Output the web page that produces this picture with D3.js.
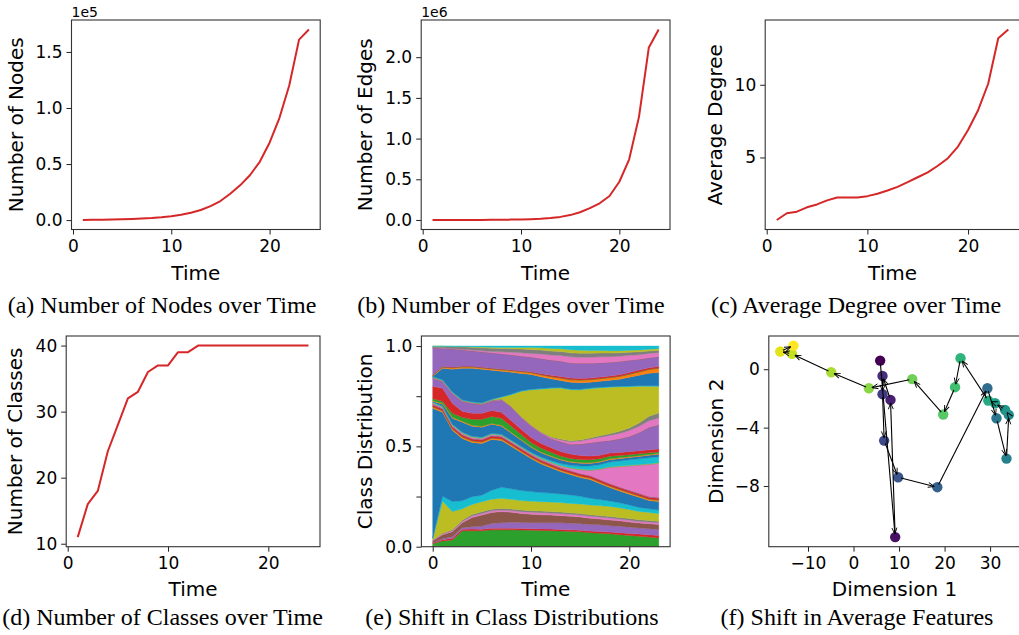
<!DOCTYPE html>
<html lang="en">
<head>
<meta charset="UTF-8">
<title>Dataset statistics over time</title>
<script src="https://cdn.jsdelivr.net/npm/d3@7"></script>
<style>
  body { margin: 0; background: #fff; }
  svg text { font-family: "DejaVu Sans", sans-serif; fill: #000; }
  .tick text { font-size: 17px; }
  .axis-label { font-size: 20px; }
  .offset { font-size: 14px; }
  .caption { font-family: "Liberation Serif", "Times New Roman", serif !important; font-size: 24px; }
</style>
</head>
<body>
<svg id="fig" width="1019" height="635"></svg>
<script>
// ---- data ----
const timeSteps = [1, 2, 3, 4, 5, 6, 7, 8, 9, 10, 11, 12, 13, 14, 15, 16, 17, 18, 19, 20, 21, 22, 23, 24];
const nodeCounts = [100, 200, 300, 500, 700, 1000, 1400, 1900, 2600, 3500, 4800, 6500, 9000, 12500,
                    17000, 23500, 31000, 40000, 52000, 69000, 91000, 120000, 161000, 170000];
const edgeCounts = [70, 150, 250, 500, 800, 1200, 2000, 3000, 4500, 7000, 10000, 15000, 24000, 38000,
                    60000, 95000, 145000, 205000, 295000, 470000, 745000, 1270000, 2120000, 2340000];
const avgDegree = [0.70, 1.16, 1.27, 1.57, 1.77, 2.05, 2.25, 2.25, 2.25, 2.34, 2.50, 2.73, 2.98, 3.30,
                   3.64, 3.98, 4.43, 4.95, 5.75, 6.89, 8.25, 10.07, 13.2, 13.8];
const classCounts = [11, 16, 18, 24, 28, 32, 33, 36, 37, 37, 39, 39, 40, 40, 40, 40, 40, 40, 40, 40, 40, 40, 40, 40];

// class shares (%) per snapshot, one row per class, bottom of the stack first
const snapshotSteps = [0, 1, 2, 3, 4, 5, 6, 7, 8, 9, 10, 11, 12, 13, 14, 15, 16, 17, 18, 19, 20, 21, 22, 23];
const classShares = [
  [0.3,0.2,0.2,0.2,0.2,0.2,0.2,0.2,0.2,0.2,0.2,0.2,0.2,0.2,0.2,0.2,0.2,0.2,0.2,0.2,0.2,0.2,0.2,0.2],
  [0.2,0.2,0.2,0.2,0.2,0.2,0.2,0.2,0.2,0.2,0.2,0.2,0.2,0.2,0.2,0.2,0.2,0.2,0.2,0.2,0.2,0.2,0.2,0.2],
  [1.0,2.5,3.0,7.5,7.6,7.5,8.0,8.0,8.0,7.9,7.8,7.7,7.6,7.4,7.2,7.0,6.6,6.3,6.0,5.6,5.2,4.8,4.4,4.0],
  [0.3,0.6,0.8,0.8,0.8,0.8,0.8,0.8,0.8,0.8,0.8,0.8,0.8,0.8,0.8,0.8,0.8,0.9,0.9,1.0,1.0,1.1,1.2,1.2],
  [0.2,0.5,0.8,0.8,1.2,1.6,2.4,2.8,3.0,3.0,3.0,3.1,3.2,3.3,3.3,3.3,3.3,3.3,3.2,3.2,3.1,3.0,3.0,3.0],
  [1.0,2.0,2.5,2.5,4.5,5.5,5.5,5.5,5.0,4.5,4.2,4.0,3.8,3.6,3.5,3.3,3.1,2.9,2.8,2.7,2.6,2.5,2.5,2.5],
  [0.3,0.4,0.5,0.6,0.8,0.8,0.8,0.8,0.8,0.9,1.0,1.0,1.0,1.0,1.0,1.0,1.0,1.0,1.0,0.9,0.9,0.8,0.8,0.8],
  [0.2,0.3,0.5,0.6,0.8,0.8,0.8,0.8,0.8,0.8,0.8,0.8,0.8,0.8,0.7,0.7,0.7,0.7,0.8,0.8,0.8,0.8,0.8,0.8],
  [0.5,16,9.0,5.7,5.0,5.0,5.0,5.0,4.8,4.7,4.7,4.7,4.7,4.7,4.7,4.8,4.9,5.0,5.0,4.8,4.5,4.2,4.0,3.8],
  [0.3,2.5,5.0,4.0,3.8,3.3,4.5,5.5,5.3,5.0,4.8,4.6,4.5,4.3,4.2,3.8,3.4,3.0,2.7,2.5,2.3,2.0,1.8,1.8],
  [64.7,41.8,35.5,31.1,27.1,25.8,25.3,23.4,21.1,19.0,16.5,14.4,12.7,11.2,10.2,9.4,9.3,8.0,6.7,5.9,5.4,5.0,4.1,4.2],
  [0.7,0.7,0.7,0.7,0.7,0.7,0.7,0.7,0.7,0.7,0.7,0.7,0.7,0.7,0.7,0.7,0.7,0.7,0.7,0.7,0.7,0.7,0.7,0.7],
  [0.1,0.1,0.1,0.1,0.1,0.1,0.1,0.1,0.1,0.1,0.1,0.1,0.1,0.1,0.1,0.1,0.1,0.1,0.1,0.1,0.1,0.1,0.1,0.1],
  [0.9,0.9,0.9,0.9,0.9,0.9,0.9,0.9,0.9,0.9,0.9,0.9,0.9,0.9,0.9,0.9,0.9,0.9,0.9,0.9,0.9,0.9,0.9,0.9],
  [0.15,0.15,0.15,0.15,0.15,0.15,0.15,0.15,0.15,0.15,0.15,0.15,0.15,0.15,0.15,0.15,0.15,0.15,0.15,0.15,0.15,0.15,0.15,0.15],
  [0.15,0.15,0.15,0.15,0.15,0.15,0.15,0.15,0.15,0.15,0.15,0.15,0.15,0.15,0.15,0.15,0.15,0.15,0.15,0.15,0.15,0.15,0.15,0.15],
  [0.4,0.4,0.4,0.4,0.4,0.4,0.4,0.4,0.4,0.4,0.4,0.4,0.4,0.6,1.0,1.8,2.5,5.0,8.0,10.0,12.0,14.0,16.0,17.0],
  [0.2,0.2,0.2,0.2,0.2,0.2,0.2,0.2,0.2,0.2,0.2,0.2,0.2,0.2,0.2,0.2,0.2,0.2,0.2,0.2,0.2,0.2,0.2,0.2],
  [0.2,0.2,0.2,0.2,0.2,0.2,0.2,0.2,0.2,0.2,0.2,0.2,0.2,0.2,0.2,0.2,0.2,0.2,0.2,0.2,0.2,0.2,0.2,0.2],
  [0.3,0.3,0.3,0.3,0.3,0.3,0.3,0.3,0.3,0.3,0.3,0.5,0.8,1.0,1.2,1.5,1.8,2.0,2.3,2.5,2.7,2.8,3.0,3.0],
  [0.3,1.0,3.0,5.0,5.0,5.0,4.5,4.0,3.5,3.0,2.5,2.2,2.0,1.8,1.5,1.4,1.3,1.2,1.2,1.2,1.2,1.2,1.2,1.2],
  [0.4,0.4,0.4,0.4,0.4,0.4,0.4,0.4,0.4,0.4,0.4,0.4,0.4,0.4,0.4,0.4,0.4,0.4,0.4,0.4,0.4,0.4,0.4,0.4],
  [1.0,1.0,2.0,2.0,3.0,3.5,3.5,3.5,3.0,2.5,2.0,1.9,1.8,1.6,1.5,1.5,1.5,1.4,1.3,1.2,1.0,0.9,0.8,0.8],
  [6.2,6.5,5.0,3.0,3.0,3.0,3.0,3.0,2.8,2.6,2.5,2.4,2.3,2.2,2.2,2.0,1.8,1.7,1.6,1.5,1.5,1.5,1.5,1.5],
  [3.8,3.3,4.8,4.8,4.8,4.3,4.5,6.0,6.5,5.7,5.6,5.0,4.3,4.8,4.7,5.5,6.4,6.7,6.1,6.6,7.4,8.9,11.0,11.9],
  [0.2,0.2,0.2,0.2,0.2,0.2,0.2,0.2,0.2,0.2,0.2,0.2,0.2,0.2,0.2,0.2,0.2,0.2,0.2,0.2,0.2,0.2,0.2,0.2],
  [0.2,0.2,0.2,0.2,0.2,0.2,0.2,0.2,0.2,0.2,0.2,0.3,0.5,0.8,1.2,1.5,1.8,2.1,2.5,2.7,2.9,3.1,3.3,3.3],
  [0.3,0.3,0.3,0.3,0.3,0.3,0.3,0.3,0.3,0.3,0.3,0.3,0.4,0.4,0.5,0.5,0.6,0.7,0.8,1.0,1.3,1.7,2.2,2.5],
  [0,0,0,0,0,0,0.1,0.8,5.8,12.5,17.5,21.3,24.2,25.5,25.5,25.0,24.6,23.9,23.2,22.2,20.6,18.3,15.0,13.3],
  [0.3,0.3,0.3,0.3,0.3,0.3,0.3,0.3,0.3,0.3,0.3,0.3,0.3,0.3,0.3,0.3,0.3,0.3,0.3,0.3,0.3,0.3,0.3,0.3],
  [0.2,5.7,11.2,15.7,16.7,16.7,14.5,12.7,10.9,8.7,7.4,5.9,4.5,3.5,3.4,3.3,2.9,3.0,3.2,3.5,4.4,5.2,6.2,6.7],
  [0.3,0.5,0.6,0.6,0.6,0.6,0.6,0.7,0.7,0.8,0.8,0.9,1.0,1.1,1.2,1.2,1.2,1.2,1.2,1.3,1.4,1.6,1.8,2.0],
  [0.15,0.15,0.15,0.15,0.15,0.15,0.15,0.15,0.15,0.15,0.15,0.15,0.15,0.15,0.15,0.15,0.15,0.15,0.15,0.15,0.15,0.15,0.15,0.15],
  [0.2,0.2,0.2,0.2,0.2,0.2,0.2,0.2,0.2,0.3,0.4,0.5,0.6,0.7,0.7,0.7,0.7,0.7,0.7,0.8,0.8,0.8,0.8,0.8],
  [13.4,9.0,9.1,8.1,7.6,7.6,7.6,7.5,7.5,7.3,7.2,7.5,7.5,7.6,7.5,7.5,7.3,7.0,6.8,6.5,6.0,5.3,4.8,4.8],
  [0.1,0.1,0.1,0.1,0.1,0.1,0.1,0.1,0.1,0.1,0.1,0.1,0.1,0.1,0.1,0.1,0.1,0.1,0.1,0.1,0.1,0.1,0.1,0.1],
  [0.2,0.2,0.2,0.3,0.4,0.5,0.7,1.0,1.3,1.6,1.8,2.2,2.5,2.8,3.0,3.0,3.0,3.0,2.8,2.6,2.5,2.3,2.2,2.0],
  [0.5,0.7,0.9,1.2,1.4,1.5,1.6,1.7,1.8,1.9,2.0,2.0,2.0,2.0,2.0,2.0,2.0,1.9,1.8,1.7,1.5,1.4,1.2,1.1],
  [0.1,0.1,0.1,0.2,0.3,0.4,0.5,0.5,0.6,0.8,1.0,1.1,1.3,1.4,1.5,1.5,1.4,1.3,1.2,1.1,1.0,0.9,0.9,0.9],
  [0.1,0.1,0.2,0.2,0.3,0.5,0.6,0.7,0.7,0.7,0.7,0.9,1.2,1.3,1.9,2.1,2.2,2.2,2.3,2.3,2.1,2.0,1.6,1.3]
];

// 2-D projection of the average feature vector per snapshot
const featDim1 = [5.85, 9.15, 8.12, 6.37, 6.37, 6.73, 9.8, 18.4, 29.4, 31.4, 33.6, 34.1,
                  33.3, 31.1, 29.6, 23.5, 22.3, 19.7, 12.9, 3.37, -4.9, -13.5, -16.1, -13.2];
const featDim2 = [0.59, -11.5, -2.1, -0.46, -1.71, -4.89, -7.4, -8.08, -1.3, -3.36, -6.12, -3.13,
                  -2.79, -2.33, -2.15, 0.75, -1.23, -3.1, -0.68, -1.3, -0.21, 1.05, 1.21, 1.62];

const tab10 = d3.schemeCategory10;
const lineRed = "#d62728";

const svg = d3.select("#fig");
svg.append("rect").attr("width", 1019).attr("height", 635).attr("fill", "#fff");

// matplotlib style 5% margins
function padded(lo, hi) {
    const m = (hi - lo) * 0.05;
    return [lo - m, hi + m];
}

function makePanel(o) {
    const g = svg.append("g");
    const x = d3.scaleLinear().domain(o.xDomain).range([o.left, o.right]);
    const y = d3.scaleLinear().domain(o.yDomain).range([o.bottom, o.top]);

    const body = g.append("g");

    g.append("g")
        .attr("transform", `translate(0,${o.bottom})`)
        .call(d3.axisBottom(x).tickValues(o.xTicks).tickFormat(o.xFmt || d3.format("d"))
            .tickSize(5).tickPadding(5).tickSizeOuter(0))
        .call(a => a.select(".domain").remove());

    g.append("g")
        .attr("transform", `translate(${o.left},0)`)
        .call(d3.axisLeft(y).tickValues(o.yTicks).tickFormat(o.yFmt || d3.format("d"))
            .tickSize(5).tickPadding(4).tickSizeOuter(0))
        .call(a => a.select(".domain").remove());

    g.selectAll(".tick text").attr("font-family", null);
    g.selectAll(".tick line").attr("stroke", "#222");

    g.append("rect")
        .attr("x", o.left).attr("y", o.top)
        .attr("width", o.right - o.left).attr("height", o.bottom - o.top)
        .attr("fill", "none").attr("stroke", "#333").attr("stroke-width", 1.1);

    const cx = (o.left + o.right) / 2;
    g.append("text").attr("class", "axis-label")
        .attr("x", cx).attr("y", o.xLabelY)
        .attr("text-anchor", "middle").text(o.xLabel);

    g.append("text").attr("class", "axis-label")
        .attr("transform", `translate(${o.yLabelX},${(o.top + o.bottom) / 2}) rotate(-90)`)
        .attr("text-anchor", "middle").text(o.yLabel);

    if (o.offset) {
        g.append("text").attr("class", "offset")
            .attr("x", o.left).attr("y", o.top - 3.5).text(o.offset);
    }

    g.append("text").attr("class", "caption")
        .attr("x", o.capX).attr("y", o.capY)
        .attr("text-anchor", "middle").text(o.caption);

    return { body, x, y };
}

function drawLine(p, xs, ys) {
    p.body.append("path")
        .datum(xs.map((t, i) => [t, ys[i]]))
        .attr("fill", "none")
        .attr("stroke", lineRed)
        .attr("stroke-width", 2)
        .attr("stroke-linejoin", "round")
        .attr("d", d3.line().x(d => p.x(d[0])).y(d => p.y(d[1])));
}

const row1 = { top: 20, bottom: 229.5, xLabelY: 279.5, capY: 312.5 };
const row2 = { top: 336, bottom: 546.7, xLabelY: 596, capY: 625 };
const timeDomain = padded(d3.min(timeSteps), d3.max(timeSteps));

// (a) nodes
const pa = makePanel(Object.assign({}, row1, {
    left: 71.5, right: 320.2,
    xDomain: timeDomain, yDomain: padded(d3.min(nodeCounts), d3.max(nodeCounts)),
    xTicks: [0, 10, 20], yTicks: [0, 50000, 100000, 150000],
    yFmt: d => (d / 1e5).toFixed(1),
    xLabel: "Time", yLabel: "Number of Nodes", yLabelX: 23,
    offset: "1e5", caption: "(a) Number of Nodes over Time", capX: 162
}));
drawLine(pa, timeSteps, nodeCounts);

// (b) edges
const pb = makePanel(Object.assign({}, row1, {
    left: 421.2, right: 670,
    xDomain: timeDomain, yDomain: padded(d3.min(edgeCounts), d3.max(edgeCounts)),
    xTicks: [0, 10, 20], yTicks: [0, 500000, 1000000, 1500000, 2000000],
    yFmt: d => (d / 1e6).toFixed(1),
    xLabel: "Time", yLabel: "Number of Edges", yLabelX: 371.5,
    offset: "1e6", caption: "(b) Number of Edges over Time", capX: 511
}));
drawLine(pb, timeSteps, edgeCounts);

// (c) average degree
const pc = makePanel(Object.assign({}, row1, {
    left: 765.2, right: 1019.9,
    xDomain: timeDomain, yDomain: padded(d3.min(avgDegree), d3.max(avgDegree)),
    xTicks: [0, 10, 20], yTicks: [5, 10],
    xLabel: "Time", yLabel: "Average Degree", yLabelX: 721.5,
    caption: "(c) Average Degree over Time", capX: 856
}));
drawLine(pc, timeSteps, avgDegree);

// (d) classes
const pd = makePanel(Object.assign({}, row2, {
    left: 66.2, right: 320,
    xDomain: timeDomain, yDomain: padded(d3.min(classCounts), d3.max(classCounts)),
    xTicks: [0, 10, 20], yTicks: [10, 20, 30, 40],
    xLabel: "Time", yLabel: "Number of Classes", yLabelX: 22,
    caption: "(d) Number of Classes over Time", capX: 162.5
}));
drawLine(pd, timeSteps, classCounts);

// (e) class distribution, stacked and normalised
const pe = makePanel(Object.assign({}, row2, {
    left: 421.4, right: 670.1,
    xDomain: padded(d3.min(snapshotSteps), d3.max(snapshotSteps)), yDomain: [0, 1.05],
    xTicks: [0, 10, 20], yTicks: [0, 0.25, 0.5, 0.75, 1.0],
    yFmt: d => (d * 2) % 1 === 0 ? d.toFixed(1) : "",
    xLabel: "Time", yLabel: "Class Distribution", yLabelX: 372,
    caption: "(e) Shift in Class Distributions", capX: 512
}));
const classKeys = classShares.map((_, i) => i);
const stackRows = snapshotSteps.map((t, j) => {
    const row = { t };
    classKeys.forEach(k => { row[k] = classShares[k][j]; });
    return row;
});
const layers = d3.stack().keys(classKeys).offset(d3.stackOffsetExpand)(stackRows);
const area = d3.area()
    .x(d => pe.x(d.data.t))
    .y0(d => pe.y(d[0]))
    .y1(d => pe.y(d[1]));
pe.body.selectAll("path.layer")
    .data(layers)
    .join("path")
    .attr("class", "layer")
    .attr("fill", d => tab10[d.key % 10])
    .attr("stroke", d => tab10[d.key % 10])
    .attr("stroke-width", 0.4)
    .attr("d", area);

// (f) average feature trajectory
const pf = makePanel(Object.assign({}, row2, {
    left: 768.8, right: 1020.2,
    xDomain: padded(d3.min(featDim1), d3.max(featDim1)),
    yDomain: padded(d3.min(featDim2), d3.max(featDim2)),
    xTicks: [-10, 0, 10, 20, 30], yTicks: [0, -4, -8],
    xLabel: "Dimension 1", yLabel: "Dimension 2", yLabelX: 723,
    caption: "(f) Shift in Average Features", capX: 857
}));
const viridis = d3.scaleSequential(d3.interpolateViridis).domain([0, featDim1.length - 1]);
pf.body.selectAll("circle")
    .data(featDim1)
    .join("circle")
    .attr("cx", d => pf.x(d))
    .attr("cy", (d, i) => pf.y(featDim2[i]))
    .attr("r", 5.2)
    .attr("fill", (d, i) => viridis(i));

svg.append("defs").append("marker")
    .attr("id", "head")
    .attr("viewBox", "0 0 10 10")
    .attr("refX", 10).attr("refY", 5)
    .attr("markerWidth", 7).attr("markerHeight", 7)
    .attr("markerUnits", "userSpaceOnUse")
    .attr("orient", "auto")
  .append("path")
    .attr("d", "M1,1.5 L10,5 L1,8.5")
    .attr("fill", "none").attr("stroke", "#000").attr("stroke-width", 1.3);

const shrink = 3;
const hops = featDim1.slice(0, -1).map((d, i) => {
    const x0 = pf.x(d), y0 = pf.y(featDim2[i]);
    const x1 = pf.x(featDim1[i + 1]), y1 = pf.y(featDim2[i + 1]);
    const len = Math.hypot(x1 - x0, y1 - y0) || 1;
    const ux = (x1 - x0) / len, uy = (y1 - y0) / len;
    return [x0 + ux * shrink, y0 + uy * shrink, x1 - ux * shrink, y1 - uy * shrink];
});
pf.body.selectAll("line")
    .data(hops)
    .join("line")
    .attr("x1", d => d[0]).attr("y1", d => d[1])
    .attr("x2", d => d[2]).attr("y2", d => d[3])
    .attr("stroke", "#000").attr("stroke-width", 1.1)
    .attr("marker-end", "url(#head)");
</script>
</body>
</html>
